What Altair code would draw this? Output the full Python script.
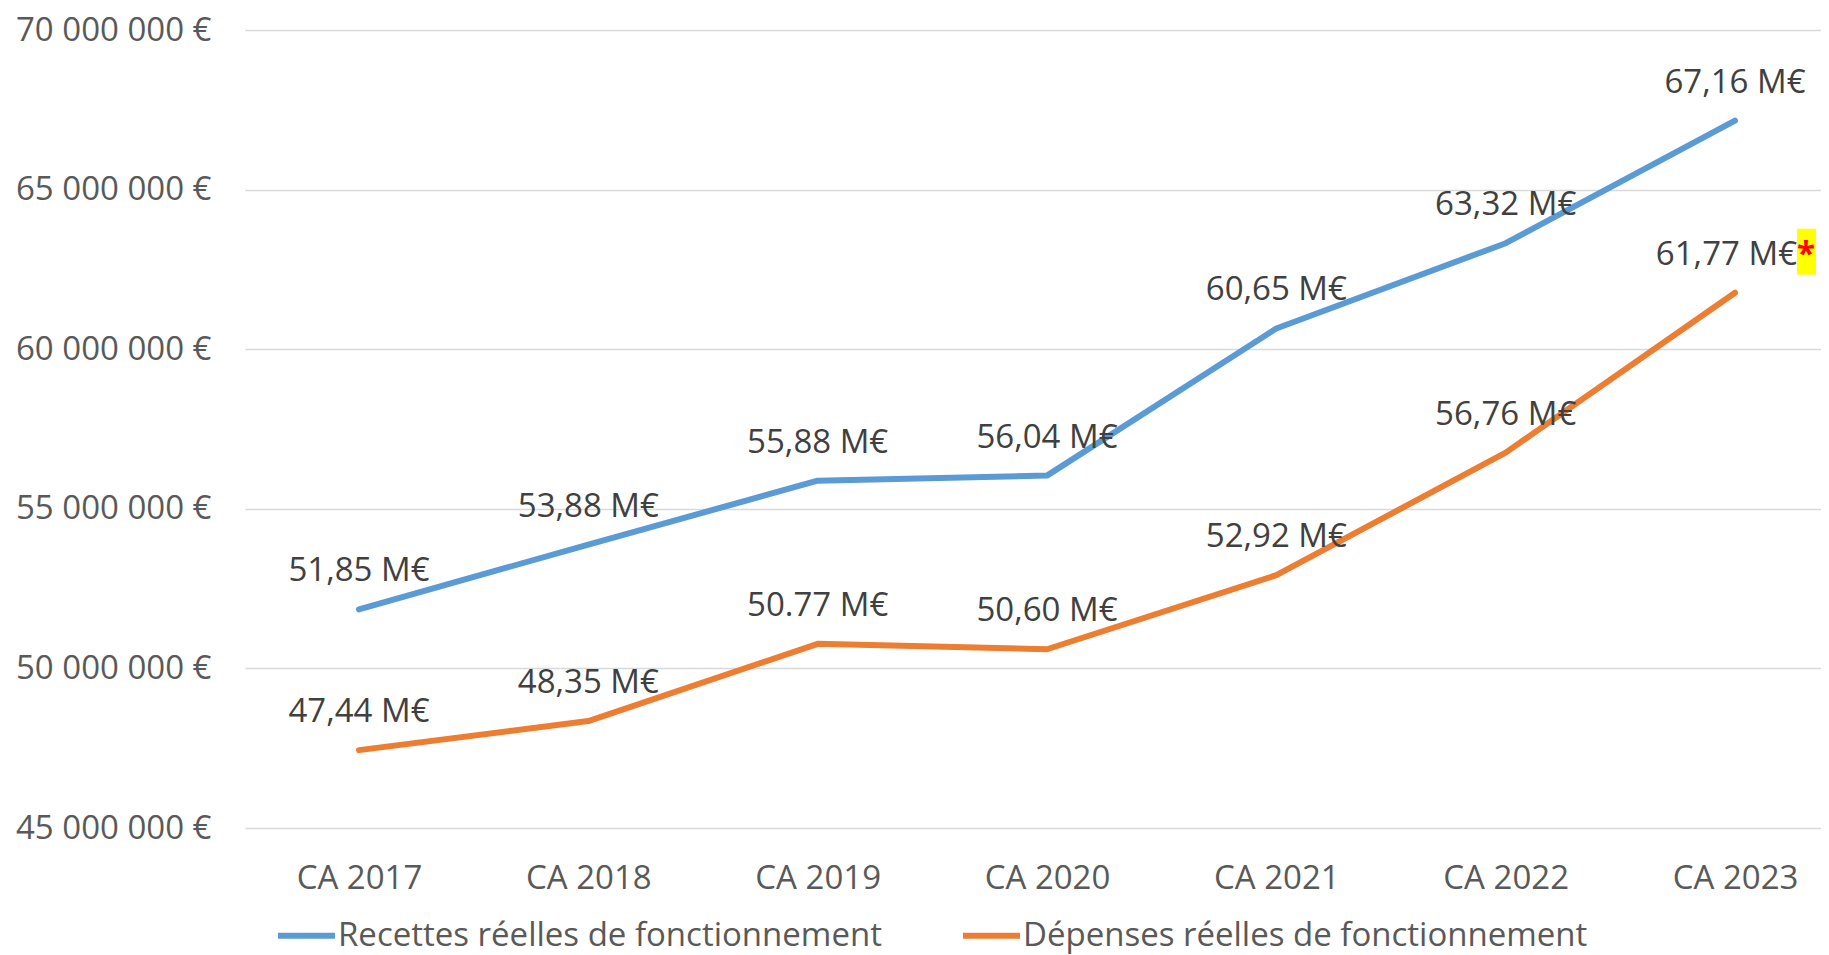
import altair as alt
import pandas as pd

categories = ["CA 2017", "CA 2018", "CA 2019", "CA 2020", "CA 2021", "CA 2022", "CA 2023"]
series_names = ["Recettes réelles de fonctionnement", "Dépenses réelles de fonctionnement"]
series_colors = ["#5B9BD5", "#ED7D31"]

recettes = [51.85, 53.88, 55.88, 56.04, 60.65, 63.32, 67.16]
depenses = [47.44, 48.35, 50.77, 50.60, 52.92, 56.76, 61.77]

recettes_labels = ["51,85 M€", "53,88 M€", "55,88 M€", "56,04 M€", "60,65 M€", "63,32 M€", "67,16 M€"]
depenses_labels = ["47,44 M€", "48,35 M€", "50.77 M€", "50,60 M€", "52,92 M€", "56,76 M€", "61,77 M€"]

y_ticks = [45000000, 50000000, 55000000, 60000000, 65000000, 70000000]
note_mark = "*"

rows = []
for serie, vals, labs in [(series_names[0], recettes, recettes_labels),
                          (series_names[1], depenses, depenses_labels)]:
    for i, (cat, v, lab) in enumerate(zip(categories, vals, labs)):
        kind = "note" if (serie == series_names[1] and i == len(categories) - 1) else "plain"
        rows.append({"annee": cat, "serie": serie, "valeur": v * 1e6, "label": lab, "kind": kind})
df = pd.DataFrame(rows)

FONT = "Open Sans"
FS = 33

x_enc = alt.X("annee:N", sort=categories,
              scale=alt.Scale(type="point", padding=0.436, align=0.57),
              axis=alt.Axis(title=None, labelAngle=0, labelFontSize=FS, labelColor="#595959",
                            labelFont=FONT, labelPadding=34, ticks=False, domain=False, grid=False))
y_enc = alt.Y("valeur:Q",
              scale=alt.Scale(domain=[45000000, 70000000], nice=False, zero=False),
              axis=alt.Axis(title=None, values=y_ticks,
                            labelExpr="replace(replace(format(datum.value, ',d'), ',', ' '), ',', ' ') + ' €'",
                            labelFontSize=FS, labelColor="#595959", labelFont=FONT, labelPadding=34,
                            labelLimit=400, ticks=False, domain=False,
                            gridColor="#D9D9D9", gridWidth=1.5))

base = alt.Chart(df)

lines = base.mark_line(strokeWidth=6, strokeCap="round", strokeJoin="round").encode(
    x=x_enc, y=y_enc,
    color=alt.Color("serie:N",
                    scale=alt.Scale(domain=series_names, range=series_colors),
                    legend=alt.Legend(orient="none", legendX=30, legendY=874, direction="horizontal",
                                      title=None, symbolType="stroke", symbolStrokeWidth=6,
                                      symbolSize=3249, labelFontSize=FS, labelColor="#595959",
                                      labelFont=FONT, labelLimit=900, columnPadding=69,
                                      labelOffset=0, padding=0)),
    detail="serie:N",
)

labels_plain = base.transform_filter(alt.datum.kind == "plain").mark_text(
    align="center", baseline="alphabetic", dy=-28, fontSize=FS, font=FONT, color="#404040"
).encode(x=x_enc, y=y_enc, text="label:N")

labels_note = base.transform_filter(alt.datum.kind == "note").mark_text(
    align="right", baseline="alphabetic", dx=62, dy=-28, fontSize=FS, font=FONT, color="#404040"
).encode(x=x_enc, y=y_enc, text="label:N")

note_bg = base.transform_filter(alt.datum.kind == "note").mark_point(
    shape="M-0.413,-1L0.413,-1L0.413,1L-0.413,1Z", size=2116, filled=True,
    color="#FFFF00", opacity=1, xOffset=71.5, yOffset=-41
).encode(x=x_enc, y=y_enc)

note_star = base.transform_filter(alt.datum.kind == "note").mark_text(
    align="center", baseline="alphabetic", dx=71, dy=-28, fontSize=FS, font=FONT,
    color="#FF0000", fontWeight="bold", text=note_mark
).encode(x=x_enc, y=y_enc)

chart = alt.layer(lines, labels_plain, labels_note, note_bg, note_star).properties(
    width=1576, height=798, autosize="none",
    padding={"left": 237, "top": 22, "right": 0, "bottom": 135},
    background="white",
).configure_view(stroke=None)

chart.save("out.html", embed_options={"renderer": "svg", "actions": False})
